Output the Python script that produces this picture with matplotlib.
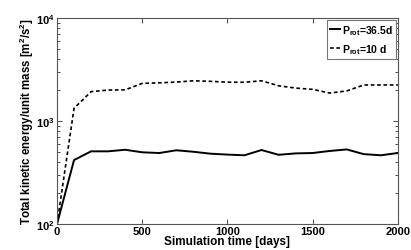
import matplotlib
matplotlib.use('Agg')
import matplotlib.pyplot as plt

matplotlib.rcParams['font.family'] = ['Liberation Sans', 'DejaVu Sans']
matplotlib.rcParams['font.weight'] = 'bold'
matplotlib.rcParams['mathtext.default'] = 'regular'

# simulation time (days)
days = [0, 100, 200, 300, 400, 500, 600, 700, 800, 900, 1000,
        1100, 1200, 1300, 1400, 1500, 1600, 1700, 1800, 1900, 2000]

# total kinetic energy per unit mass, P_rot = 36.5 d
ke_slow = [100, 418, 508, 508, 526, 497, 489, 520, 503, 482, 472,
           465, 523, 470, 485, 489, 512, 530, 477, 465, 489]

# total kinetic energy per unit mass, P_rot = 10 d
ke_fast = [100, 1330, 1930, 2000, 2010, 2320, 2350, 2390, 2460, 2430, 2385,
           2380, 2460, 2200, 2090, 2030, 1870, 1960, 2240, 2240, 2240]

fig = plt.figure(figsize=(4.11, 2.51), dpi=100)
ax = fig.add_axes([0.1387, 0.1036, 0.8293, 0.8204])

ax.plot(days, ke_slow, color='black', linestyle='-', linewidth=1.4,
        label='P$_{rot}$=36.5d')
ax.plot(days, ke_fast, color='black', linestyle='--', linewidth=1.2,
        dashes=(2.2, 1.6), label='P$_{rot}$=10 d')

ax.set_yscale('log')
ax.set_xlim(0, 2000)
ax.set_ylim(100, 10000)
ax.set_xticks(range(0, 2001, 500))

ax.tick_params(which='both', direction='in', top=True, right=True,
               labelsize=8, width=0.6, colors='#333333', labelcolor='black', pad=1.5)
ax.tick_params(which='major', length=3.5)
ax.tick_params(which='minor', length=2)
for s in ax.spines.values():
    s.set_color('#555555')
    s.set_linewidth(0.8)

ax.set_xlabel('Simulation time [days]', fontsize=8.5, fontweight='bold', labelpad=-1)
ax.set_ylabel('Total kinetic energy/unit mass [m$^2$/s$^2$]', fontsize=8.3,
              fontweight='bold', labelpad=0)

leg = ax.legend(loc='upper right', fontsize=7.5, handlelength=1.0, handletextpad=0.2,
                borderpad=0.3, labelspacing=0.5, fancybox=False, framealpha=1,
                borderaxespad=0.15)
leg.get_frame().set_edgecolor('#777777')
leg.get_frame().set_linewidth(0.8)

fig.savefig('out.png', dpi=100)
